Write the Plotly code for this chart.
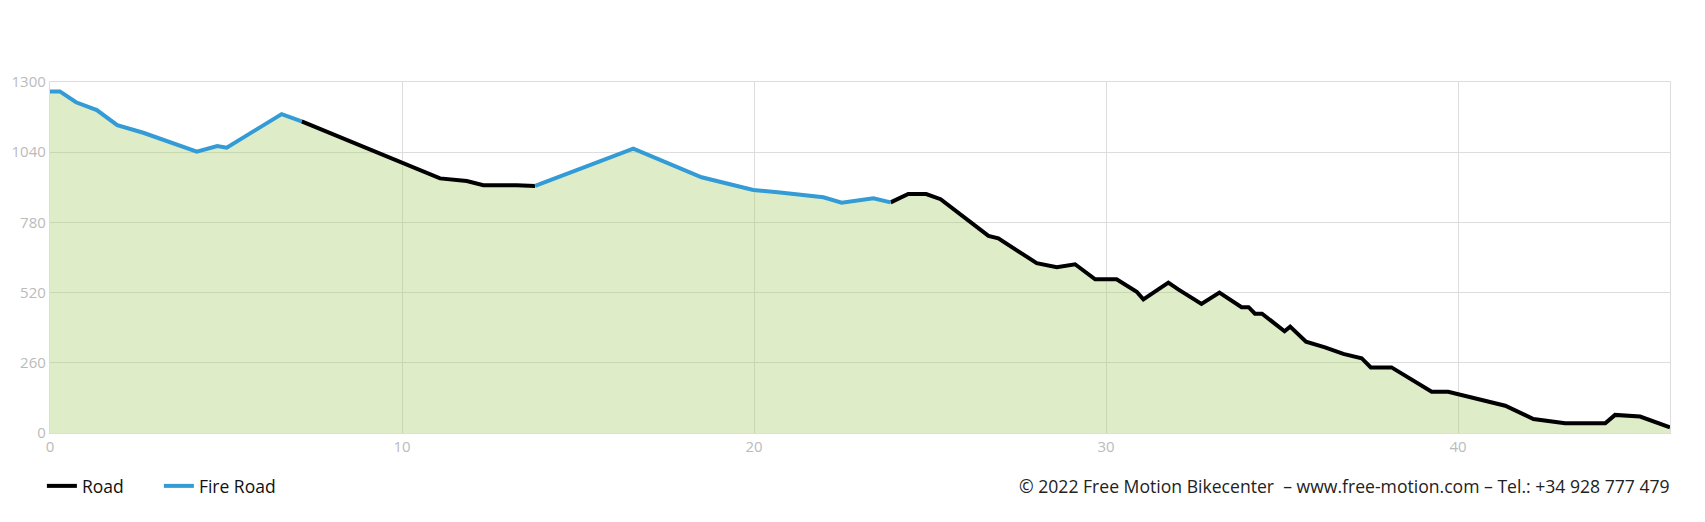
import plotly.graph_objects as go

# distance along route (km)
km = [0, 0.28, 0.74, 1.33, 1.91, 2.65, 4.17, 4.75, 5.02, 6.58, 7.15,
      11.08, 11.84, 12.31, 13.26, 13.78, 16.57, 18.51, 19.98, 20.74, 21.97,
      22.49, 23.39, 23.88, 24.38, 24.89, 25.30, 26.66, 26.94, 28.03, 28.60,
      29.12, 29.69, 30.30, 30.87, 31.06, 31.77, 32.05, 32.71, 33.22, 33.85,
      34.05, 34.23, 34.43, 35.07, 35.23, 35.68, 36.22, 36.74, 37.26, 37.52,
      38.11, 39.25, 39.72, 41.34, 42.14, 43.04, 44.18, 44.46, 45.17, 46.02]
# elevation (m)
elev = [1265, 1265, 1225, 1196, 1140, 1112, 1042, 1063, 1057, 1181, 1154,
        943, 933, 918, 918, 915, 1053, 947, 900, 891, 873,
        853, 869, 854, 885, 885, 866, 730, 721, 629, 614,
        625, 569, 569, 523, 495, 557, 532, 478, 520, 466,
        466, 442, 442, 377, 394, 338, 317, 293, 277, 243,
        243, 153, 153, 101, 52, 36, 36, 67, 61, 21]
# surface of the segment that starts at each point ("F" fire road, "R" road)
surface = (["F"] * 10 + ["R"] * 5 + ["F"] * 8 + ["R"] * 38)

surface_names = {"R": "Road", "F": "Fire Road"}
surface_colors = {"R": "#000000", "F": "#339bd5"}

x_ticks = [0, 10, 20, 30, 40]
y_ticks = [0, 260, 520, 780, 1040, 1300]
credit = "© 2022 Free Motion Bikecenter  – www.free-motion.com – Tel.: +34 928 777 479"

fig = go.Figure()
fig.add_trace(go.Scatter(x=km, y=elev, mode="lines", fill="tozeroy",
                         line=dict(width=0, color="rgba(0,0,0,0)"),
                         fillcolor="rgba(164,201,98,0.35)",
                         showlegend=False, hoverinfo="skip"))

# split into runs of the same surface
runs = []
start = 0
for i in range(1, len(surface) + 1):
    if i == len(surface) or surface[i] != surface[start]:
        runs.append((surface[start], start, i))
        start = i

shown = set()
for order in ["R", "F"]:
    for s, a, b in runs:
        if s != order:
            continue
        fig.add_trace(go.Scatter(
            x=km[a:b + 1], y=elev[a:b + 1], mode="lines",
            line=dict(color=surface_colors[s], width=4),
            name=surface_names[s], legendgroup=s,
            showlegend=s not in shown))
        shown.add(s)

fig.update_layout(
    width=1705, height=522,
    margin=dict(l=42, r=43, t=74, b=97),
    paper_bgcolor="white", plot_bgcolor="white",
    font=dict(family="Open Sans, Lato, sans-serif", color="#222"),
    legend=dict(orientation="h", x=-0.005, xanchor="left", y=-0.151, yanchor="middle",
                font=dict(size=17.5, color="#111"), itemwidth=30,
                entrywidth=72, traceorder="normal"),
    annotations=[dict(text=credit, xref="paper", yref="paper", x=1.001, y=-0.151,
                      xanchor="right", yanchor="middle", showarrow=False,
                      font=dict(size=17.6, color="#222"))],
)
fig.update_xaxes(range=[0, 46.02], tickvals=x_ticks, showgrid=True, gridcolor="#dddddd",
                 gridwidth=1.3, zeroline=False, showline=True, linecolor="#dddddd",
                 linewidth=1.3, mirror=True, tickfont=dict(size=15, color="#bbbbbb"),
                 automargin=False)
fig.update_yaxes(range=[0, 1300], tickvals=y_ticks, showgrid=True, gridcolor="#dddddd",
                 gridwidth=1.3, zeroline=False, showline=True, linecolor="#dddddd",
                 linewidth=1.3, mirror=True, tickfont=dict(size=15, color="#bbbbbb"),
                 automargin=False)

fig.write_html("out.html")
